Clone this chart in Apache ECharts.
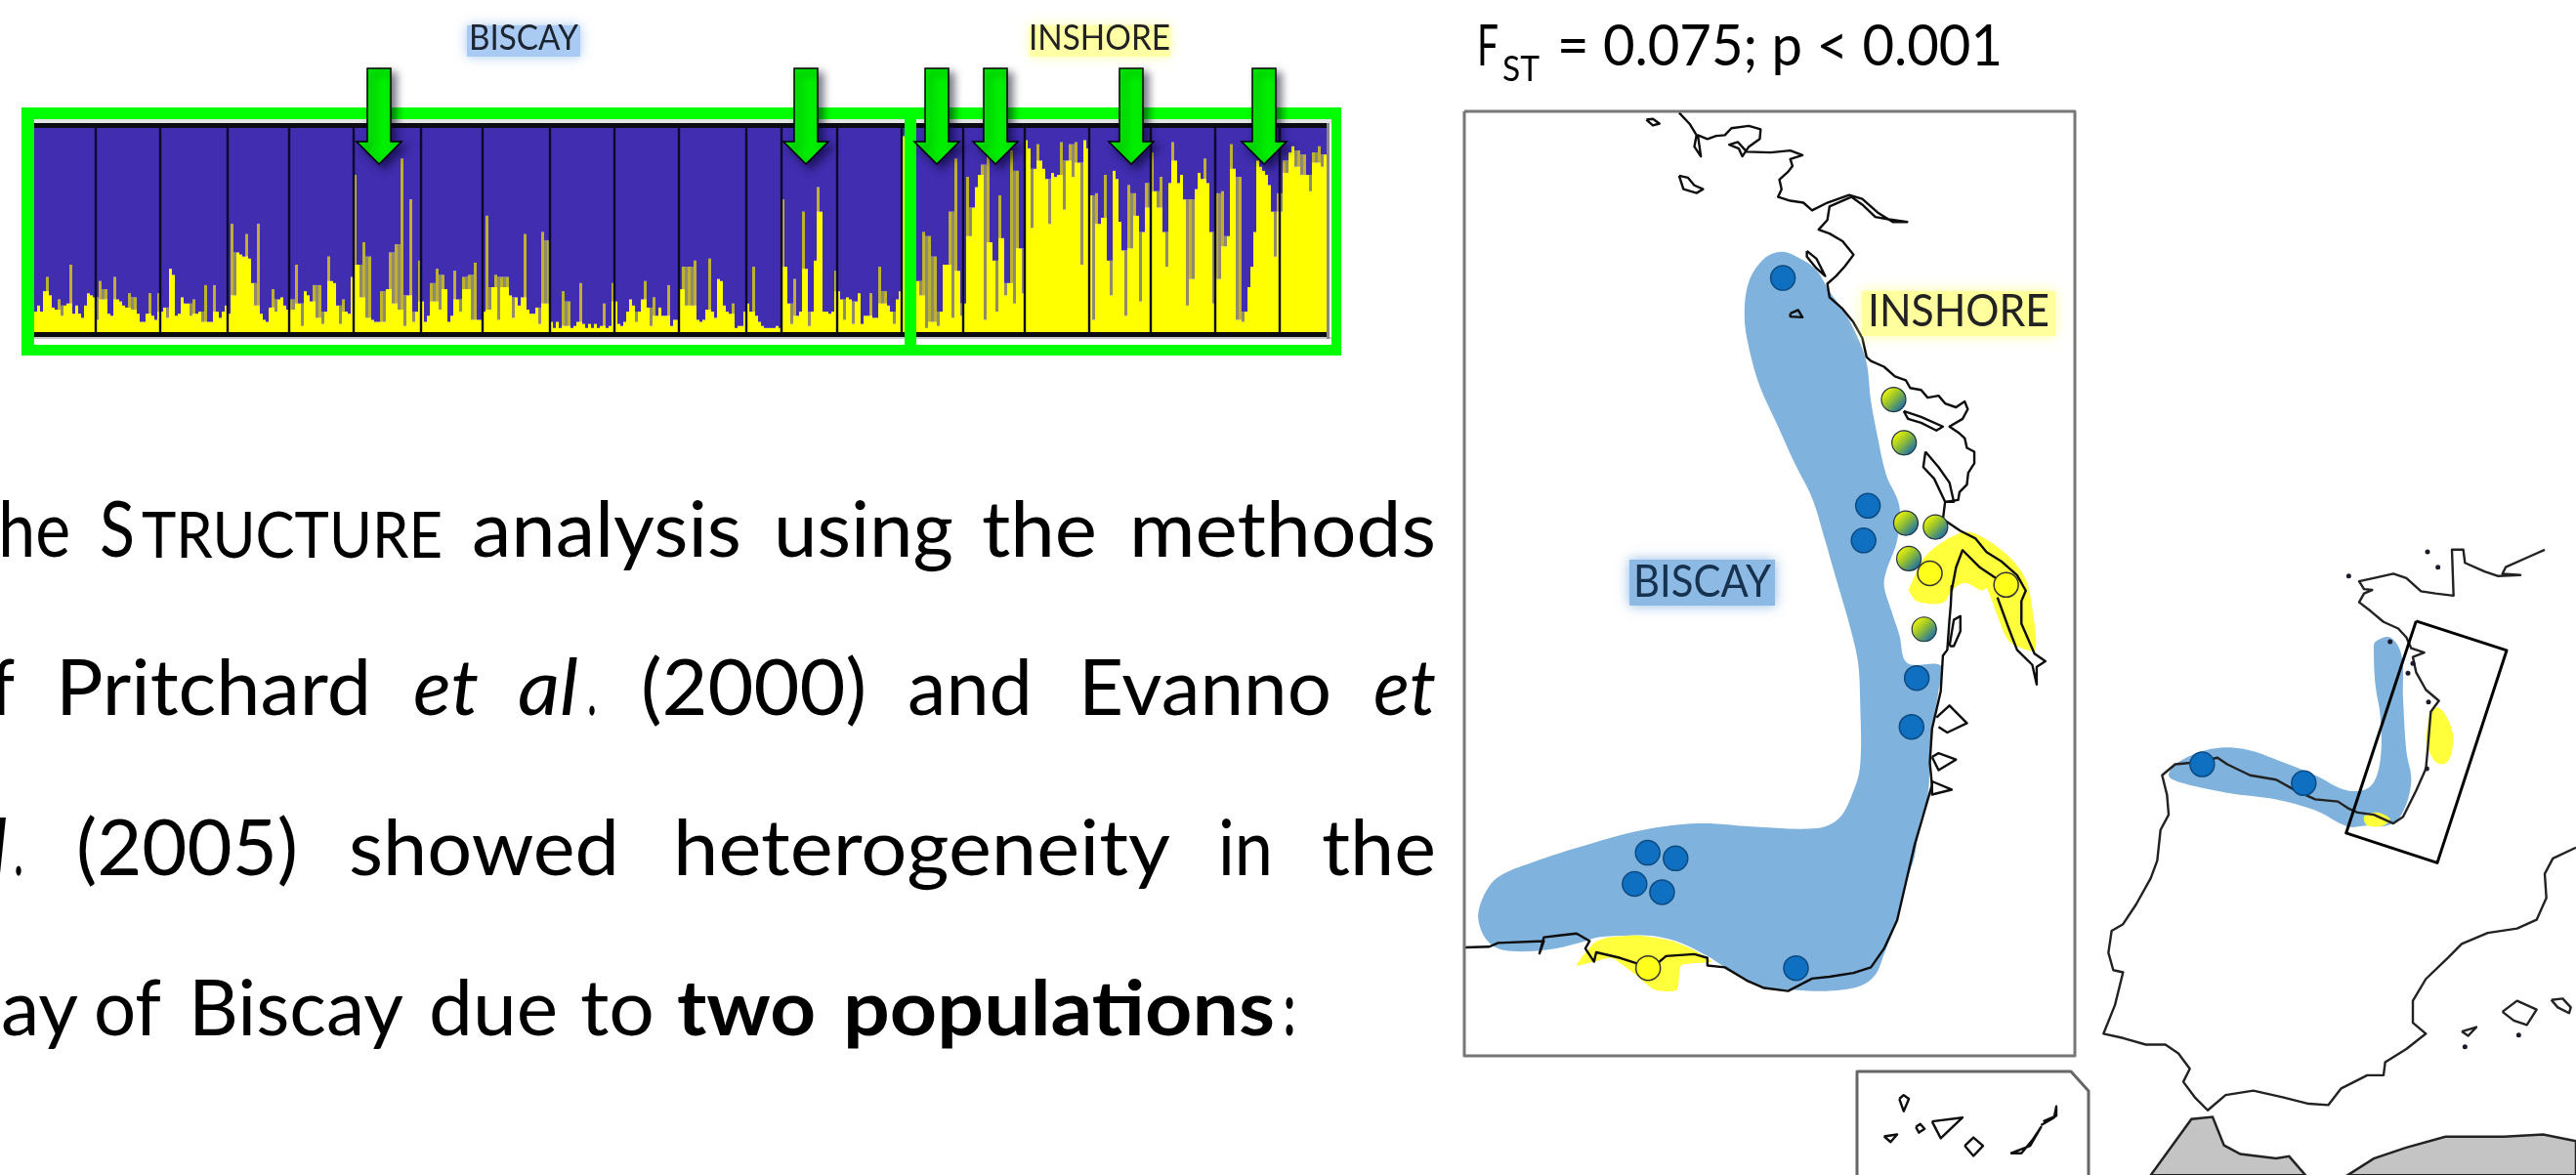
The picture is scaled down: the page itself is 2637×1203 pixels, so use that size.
<!DOCTYPE html>
<html><head><meta charset="utf-8">
<style>html,body{margin:0;padding:0;background:#fff;overflow:hidden}#c{width:2637px;height:1203px}</style>
<script src="https://cdn.jsdelivr.net/npm/echarts@6/dist/echarts.min.js"></script>
</head><body><div id="c"></div>
<script>
// ---- STRUCTURE plot: yellow (inshore) ancestry per individual, percent, one array per sampled population
const pop01=[10,13,10,20,27,18,12,11,16,8,13,14,33,9,13,9,7,13,19,18,17];
const pop02=[6,25,16,21,9,8,27,16,15,13,12,19,11,17,9,5,5,9,19,8,6,19];
const pop03=[10,12,7,31,28,8,9,17,14,14,8,16,9,10,5,23,5,5,23,10,7,10,13];
const pop04=[9,53,18,39,38,37,48,36,24,13,53,9,6,5,12,21,10,16,17,13,11];
const pop05=[16,11,33,14,3,20,18,15,23,7,23,4,10,37,25,24,13,4,16,10,9,27];
const pop06=[77,33,17,44,7,37,6,5,5,20,5,21,39,14,43,11,85,3,18,65,5,10,35];
const pop07=[15,5,8,24,15,31,11,28,21,5,8,30,16,10,27,21,28,6,34,6,6];
const pop08=[10,57,11,22,28,6,27,22,27,18,7,17,13,17,48,11,9,9,12,4,49,14,45];
const pop09=[5,2,5,2,20,3,15,2,3,5,24,4,2,4,2,4,2,3,14,2,3,24];
const pop10=[15,4,3,5,10,16,13,5,10,16,25,12,3,17,8,12,8,8,23,3,6,6];
const pop11=[21,32,13,32,13,35,6,5,6,11,36,10,7,26,25,13,10,9,14,2,3,3,10];
const pop12=[14,10,32,8,5,3,2,2,2,2,3,2];
const pop13=[65,32,14,4,26,8,10,59,31,3,10,35,71,59,10,10,9,10,30];
const pop14=[20,16,6,17,16,4,15,19,4,8,8,19,7,7,32,14,20,13,10,4,16,20];
const pop15=[96,95,80,60,40,25,18,49,2,47,5,37,3,10,33,33,59,7,85,30,8];
const pop16=[14,76,47,61,71,77,82,6,87,44,35,10,67,46,18,24,89,14,79,41,19];
const pop17=[94,90,51,80,92,84,80,75,53,78,76,77,93,60,84,92,76,93,83,33,94,90];
const pop18=[67,6,68,53,56,77,35,18,79,75,54,40,8,72,41,68,57,15,49,73,61];
const pop19=[88,69,61,76,49,32,73,93,84,73,77,65,13,65,26,70,78,75,85,73,49,14];
const pop20=[68,26,69,42,47,92,80,6,76,5,10,22,32,49,84,81,79,77,72,59,37,68];
const pop21=[59,84,78,88,91,81,89,77,87,77,69,88,83,91,81,87];
const populations=[pop01,pop02,pop03,pop04,pop05,pop06,pop07,pop08,pop09,pop10,pop11,pop12,pop13,pop14,pop15,pop16,pop17,pop18,pop19,pop20,pop21];
const arrowX=[388,825,959,1019,1158,1294];

// ---- map geometry (each has its own reading scale)
const A=p=>p.map(([x,y])=>[1480+x/2.24,y/2.53]);
const B=p=>p.map(([x,y])=>[1480+x/2.24,600+y/2.6]);
const C=p=>p.map(([x,y])=>[2130+x/3,500+y/2.23]);

const mainBlue=[...A([[770,652],[810,668],[850,700],[880,755],[915,810],[945,875],[965,940],[975,1040],[990,1130],[1010,1230],[1040,1310],[1035,1400],[1010,1480]]),
 ...B([[1005,0],[1020,60],[1040,130],[1058,205],[1135,212],[1130,280],[1115,380],[1110,470],[1105,560],[1085,640],[1075,720],[1055,790],[1035,890],[1005,980],[985,1035],[950,1065],[880,1078],[800,1075],[730,1068],[690,1050],[640,1015],[600,985],[540,950],[480,932],[420,930],[350,935],[320,945],[250,965],[150,972],[100,950],[75,890],[85,830],[120,775],[200,735],[320,690],[450,650],[580,632],[700,640],[850,645],[900,620],[930,560],[950,480],[950,300],[945,200],[925,100],[900,0]]),
 ...A([[885,1460],[870,1400],[840,1290],[800,1200],[760,1100],[720,1000],[695,900],[685,820],[695,730],[730,670]])];
const mainYellowN=[...A([[1060,1530],[1100,1440],[1180,1380],[1220,1385],[1290,1440],[1330,1500]]),
 ...B([[1345,60],[1352,170],[1320,165],[1290,145],[1262,70],[1240,5]]),
 ...A([[1230,1530],[1190,1510],[1160,1530]]),
 ...B([[1140,45],[1080,40],[1060,10]])];
const mainYellowS=B([[300,1010],[340,950],[375,935],[440,930],[520,945],[570,970],[610,1000],[540,1010],[530,1075],[480,1075],[430,1030],[380,990],[340,1000]]);
const overviewBlue=C([[905,350],[950,340],[985,380],[990,480],[1000,600],[1015,670],[985,745],[940,770],[880,770],[820,772],[720,735],[600,710],[450,695],[300,670],[270,655],[300,625],[400,595],[500,595],[620,625],[720,655],[820,690],[890,680],[920,620],[920,520],[905,450],[900,370]]);
const overviewYellowA=C([[1090,500],[1135,540],[1140,600],[1110,630],[1070,600],[1065,540]]);
const overviewYellowB=C([[870,750],[910,740],[950,755],[930,770],[880,770]]);
const africaA=C([[215,1568],[340,1440],[405,1435],[440,1500],[490,1520],[600,1530],[640,1525],[690,1568]]);
const africaB=C([[820,1568],[900,1530],[1000,1505],[1120,1480],[1300,1480],[1420,1475],[1521,1490],[1521,1568]]);

const mainCoast=[
 A([[535,292],[560,322],[575,350],[570,380],[585,405],[578,350],[600,360],[620,352],[640,350],[655,332],[695,326],[722,335],[720,360],[695,380],[680,405],[672,385],[650,375],[670,368],[690,393],[745,395],[790,390],[818,402],[790,412],[795,430],[785,445],[765,465],[770,490],[762,510],[790,520],[820,525],[840,545],[875,525],[925,505],[955,515],[990,550],[1025,575],[1058,575],[1015,568],[985,562],[955,530],[930,510],[880,535],[875,570],[855,595],[880,605],[910,625],[935,660],[915,690],[895,715],[875,735],[880,770],[910,800],[935,835],[955,875],[965,925],[975,935],[1005,950],[1030,975],[1055,985],[1065,1005],[1090,1010],[1105,1030],[1130,1025],[1145,1045],[1170,1055],[1190,1040],[1197,1060],[1185,1085],[1155,1105],[1175,1120],[1190,1135],[1195,1160],[1212,1170],[1212,1200],[1198,1225],[1195,1255],[1178,1275],[1175,1295],[1145,1300],[1140,1345],[1180,1375],[1215,1395],[1240,1430],[1275,1455],[1310,1490],[1330,1530]]).concat(B([[1320,40],[1320,100],[1350,180],[1375,200],[1355,215],[1355,262],[1345,210],[1310,170],[1290,110],[1265,30]])),
 A([[1265,1500],[1225,1470],[1185,1425],[1170,1470],[1160,1530]]).concat(B([[1160,0],[1158,50],[1155,90],[1150,170],[1140,185],[1135,280],[1115,380],[1110,470],[1115,530],[1100,590],[1075,690],[1055,790],[1035,890],[1005,965],[975,1015],[935,1030],[880,1040],[840,1045],[785,1078],[730,1070],[690,1050],[640,1015],[600,1010],[600,990],[570,980],[505,985],[490,1000],[440,1005],[400,990],[345,975],[340,1000],[320,965],[330,945],[300,925],[260,930],[225,935],[215,978],[225,945],[120,950],[100,960],[45,962]])),
 A([[460,310],[475,308],[490,320],[475,325],[460,310]]),
 A([[535,455],[555,460],[570,480],[590,490],[575,500],[545,490],[535,455]]),
 A([[828,650],[850,670],[870,715],[850,695],[828,665],[828,650]]),
 A([[790,812],[808,803],[818,822],[790,820],[790,812]]),
 A([[1050,1065],[1090,1080],[1140,1105],[1125,1115],[1090,1095],[1060,1085],[1050,1065]]),
 A([[1100,1170],[1130,1210],[1155,1250],[1165,1300],[1145,1300],[1120,1240],[1095,1210],[1100,1170]]),
 B([[1155,160],[1165,90],[1180,80],[1180,120],[1165,160],[1155,160]]),
 B([[1125,350],[1155,318],[1195,365],[1150,390],[1130,375]]),
 B([[1115,455],[1130,445],[1170,462],[1130,490],[1115,455]]),
 B([[1115,520],[1160,542],[1115,555],[1115,520]]),
 B([[1040,1365],[1050,1355],[1062,1365],[1050,1398],[1040,1365]]),
 B([[1078,1440],[1088,1432],[1098,1445],[1085,1455],[1078,1440]]),
 B([[1115,1425],[1185,1415],[1135,1470],[1115,1425]]),
 B([[1005,1465],[1035,1460],[1020,1480],[1005,1465]]),
 B([[1190,1490],[1210,1468],[1232,1490],[1210,1517],[1190,1490]]),
 B([[1295,1510],[1340,1490],[1365,1440],[1345,1475],[1320,1510],[1295,1510]]),
 B([[1370,1425],[1400,1410],[1400,1385],[1395,1415],[1365,1435]])
];
const overviewCoast=[
 C([[1425,140],[1380,155],[1305,180],[1295,195],[1350,198],[1280,200],[1240,190],[1180,170],[1175,140],[1140,140],[1145,245],[1090,240],[1045,235],[1000,205],[960,195],[900,205],[855,212],[870,230],[895,232],[870,240],[855,260],[890,280],[930,305],[975,320],[1000,340],[1015,365],[1055,375],[1020,385],[1030,420],[1060,460],[1100,485],[1075,510],[1065,600],[1060,640],[1030,690],[990,750],[960,765],[900,745],[850,740],[820,730],[790,715],[720,710],[660,690],[600,665],[520,655],[450,630],[420,615],[360,625],[290,630],[250,655],[265,700],[270,745],[245,780],[235,850],[215,890],[170,950],[130,995],[95,1010],[85,1060],[100,1100],[130,1105],[105,1180],[70,1245],[130,1255],[200,1270],[260,1270],[300,1290],[335,1325],[315,1355],[350,1390],[390,1420],[445,1385],[530,1375],[620,1390],[700,1405],[760,1408],[800,1370],[880,1340],[930,1340],[935,1310],[1000,1280],[1060,1245],[1020,1220],[1020,1170],[1060,1120],[1130,1070],[1170,1040],[1250,1015],[1340,1005],[1400,985],[1430,935],[1425,880],[1450,845],[1521,820]]),
 C([[1295,1195],[1340,1170],[1400,1190],[1370,1225],[1330,1215],[1295,1195]]),
 C([[1445,1168],[1480,1165],[1505,1185],[1500,1198],[1465,1185],[1445,1168]]),
 C([[1170,1240],[1215,1230],[1190,1250],[1170,1240]])
];
const overviewDots=C([[823,200],[1065,145],[1097,180],[1005,422],[1020,400],[1068,488],[1063,640],[950,350],[1180,1275],[1345,1248]]);
const zoomFrame=C([[1030,303],[1308,370],[1095,855],[815,787],[1030,303]]);
const inshorePoints=[...A([[1110,1485],[1285,1515]]),...B([[464,1017]])];
const mixedPoints=[...A([[1027,1035],[1051,1147],[1055,1355],[1123,1365],[1062,1447]]),...B([[1097,115]])];
const biscayPoints=[...A([[773,720],[968,1310],[958,1400]]),...B([[1080,245],[1068,375],[463,710],[527,725],[433,793],[496,815],[803,1017]]),...C([[373,630],[685,673]])];

// ---- text, word by word: [text, left, right, baseline, size, italic, bold, colour]
const bodyWords=[
 ['S',102,138,575,79],['TRUCTURE',145,453,575,65],['analysis',483,759,575,79],['using',792,976,575,79],['the',1005,1123,575,79],['methods',1156,1470,575,79],
 ['Pritchard',57,380,737,79],['et',423,490,737,79,1],['al',530,592,737,79,1],['.',601,611,737,79],['(2000)',656,887,737,79],['and',929,1057,737,79],['Evanno',1104,1363,737,79],['et',1406,1470,737,79,1],
 ['.',14,24,901,79],['(2005)',78,305,901,79],['showed',357,634,901,79],['heterogeneity',689,1198,901,79],['in',1247,1303,901,79],['the',1353,1470,901,79],
 ['of',96,165,1065,79],['Biscay',193,413,1065,79],['due',439,571,1065,79],['to',594,670,1065,79],['two',693,835,1065,79,0,1],['populations',863,1305,1065,79,0,1],[':',1314,1326,1065,79,0,1],
 ['F',1512,1534,71,58],['ST',1538,1576,85,36],['= 0.075; p < 0.001',1594,2050,71,58],
 ['BISCAY',480,592,53,36,0,0,'#1c2430'],['INSHORE',1053,1198,53,36,0,0,'#222'],
 ['INSHORE',1912,2098,337,47,0,0,'#222'],['BISCAY',1672,1813,614,47,0,0,'#16324f']
];
// words cut by the left edge of the slide: [text, right edge, baseline, size, italic, widthScale]
const cutWords=[['The',72,575,79,0,0.86],['of',15,737,79,0,0.86],['al',7,901,79,1,0.86],['Bay',80,1065,79,0,1]];
// glowing label backgrounds: [left, top, right, bottom, colour]
const labelGlows=[[478,26,594,58,'#a9caf2'],[1054,26,1198,58,'#ffffa6'],[1668,573,1817,620,'#8db9e5'],[1906,298,2104,344,'#ffff9e']];

// ---- build
const flat=populations.flat();
const cats=flat.map((_,i)=>i);
const yellow=[],spike=[],valley=[],blue=[];
flat.forEach((v,i)=>{
  const L=i?flat[i-1]:v,R=i<flat.length-1?flat[i+1]:v;
  const hi=Math.max(L,R),lo=Math.min(L,R);
  const sp=v>hi+4?v-hi:0, va=v<lo-4?lo-v:0;
  yellow.push(v-sp); spike.push(sp); valley.push(va); blue.push(100-v-va);
});
const popStarts=[];let acc=0;populations.forEach(p=>{if(acc)popStarts.push(acc);acc+=p.length;});

const measure=document.createElement('canvas').getContext('2d');
const FONT='Lato';
function textEl(w){
  const [t,x0,x1,base,size,it,bold,col]=w;
  const st=it?'italic':'normal',wt=bold?'bold':'normal';
  measure.font=`${st} ${wt} ${size}px ${FONT}`;
  const sx=(x1-x0)/measure.measureText(t).width;
  return {type:'text',x:x0,y:base-0.387*size,scaleX:sx,z:50,silent:true,
    style:{text:t,fontFamily:FONT,fontSize:size,fontStyle:st,fontWeight:wt,fill:col||'#000',align:'left',verticalAlign:'middle'}};
}
function cutEl(w){
  const [t,x1,base,size,it,sc]=w;const st=it?'italic':'normal';
  return {type:'text',x:x1,y:base-0.387*size,scaleX:sc,z:50,silent:true,
    style:{text:t,fontFamily:FONT,fontSize:size,fontStyle:st,fill:'#000',align:'right',verticalAlign:'middle'}};
}
const sceneAxes={xAxisIndex:1,yAxisIndex:1,coordinateSystem:'cartesian2d',silent:true,animation:false,clip:false};
function polygon(pts,style,z,smooth){
  return {type:'custom',...sceneAxes,z,data:[[0,0]],renderItem:(p,api)=>({type:'polygon',shape:{points:pts.map(q=>api.coord(q)),smooth:smooth||0},style})};
}
function rect(x,y,w,h,fill,z){
  return polygon([[x,y],[x+w,y],[x+w,y+h],[x,y+h]],{fill},z);
}
function line(pts,color,width,z){
  return {type:'line',...sceneAxes,z,data:pts,showSymbol:false,lineStyle:{color,width,join:'round'},itemStyle:{opacity:0}};
}
const barBase={type:'bar',stack:'q',barWidth:3,animation:false,silent:true,xAxisIndex:0,yAxisIndex:0,z:3};

const series=[
 {...barBase,name:'inshore',data:yellow,itemStyle:{color:'#ffff00'}},
 {...barBase,name:'spike',data:spike,itemStyle:{color:'#c0b030'}},
 {...barBase,name:'valley',data:valley,itemStyle:{color:'#8f8b6c'}},
 {...barBase,name:'biscay',data:blue,itemStyle:{color:'#402db0'}},
 {type:'custom',xAxisIndex:0,yAxisIndex:0,silent:true,animation:false,z:4,data:popStarts.map(i=>[i]),
  renderItem:(p,api)=>{const a=api.coord([api.value(0),100]),b=api.coord([api.value(0),0]),w=api.size([1,0])[0];
   return {type:'rect',shape:{x:a[0]-w/2-1.2,y:a[1],width:2.4,height:b[1]-a[1]},style:{fill:'#0c0a28'}};}},
 // black rails of the plot
 rect(35,126,1323,5,'#0b0b14',5), rect(35,122,1328,4,'#e4e4e4',4),
 rect(35,340,1323,5,'#0b0b14',5), rect(35,345,1328,2,'#c8c8c8',4), rect(1358,126,3,221,'#888',4),
 // green frame
 rect(22,110,1351,12,'#00ff00',6), rect(22,353,1351,11,'#00ff00',6), rect(22,110,13,254,'#00ff00',6), rect(1363,110,10,254,'#00ff00',6), rect(926,122,12,232,'#00ff00',6),
 // arrows
 {type:'custom',...sceneAxes,z:8,data:arrowX.map(x=>[x,70]),renderItem:(p,api)=>{
   const c=api.coord([api.value(0),api.value(1)]);const x=c[0],y=c[1];
   return {type:'polygon',shape:{points:[[x-12,y],[x+12,y],[x+12,y+75],[x+23,y+75],[x,y+98],[x-23,y+75],[x-12,y+75]]},
    style:{fill:'#00ee00',stroke:'#000',lineWidth:1.5,shadowColor:'rgba(0,0,30,0.55)',shadowBlur:9,shadowOffsetX:5,shadowOffsetY:5}};}},
 // map fills
 polygon(mainBlue,{fill:'#7fb2dc'},10,0.35),
 polygon(mainYellowN,{fill:'#ffff3c'},11,0.3),
 polygon(mainYellowS,{fill:'#ffff3c'},11,0.2),
 polygon(overviewBlue,{fill:'#7fb2dc'},10,0.35),
 polygon(overviewYellowA,{fill:'#ffff3c'},11,0.5),
 polygon(overviewYellowB,{fill:'#ffff3c'},11,0.3),
 polygon(africaA,{fill:'#c4c4c4',stroke:'#222',lineWidth:2.5},10),
 polygon(africaB,{fill:'#c4c4c4',stroke:'#222',lineWidth:2.5},10),
 ...mainCoast.map(c=>line(c,'#0d0d0d',2.4,12)),
 ...overviewCoast.map(c=>line(c,'#222',2.4,12)),
 line(zoomFrame,'#000',3,13),
 // panel boxes
 line([[1499,114],[2124,114],[2124,1081],[1499,1081],[1499,114]],'#777',3,13),
 line([[1901,1203],[1901,1097],[2120,1097],[2138,1117],[2138,1203]],'#666',3,13),
 {type:'scatter',...sceneAxes,z:14,data:overviewDots,symbolSize:5,itemStyle:{color:'#1a1a2a',opacity:1}},
 {type:'scatter',...sceneAxes,z:15,data:biscayPoints,symbolSize:25,itemStyle:{color:'#0f6fc0',opacity:1,borderColor:'#0c4a80',borderWidth:1.5}},
 {type:'scatter',...sceneAxes,z:15,data:inshorePoints,symbolSize:25,itemStyle:{color:'#ffff1a',opacity:1,borderColor:'#333',borderWidth:1.5}},
 {type:'scatter',...sceneAxes,z:15,data:mixedPoints,symbolSize:25,itemStyle:{opacity:1,color:new echarts.graphic.LinearGradient(0.1,0.1,0.9,0.9,[{offset:0,color:'#ffff00'},{offset:0.45,color:'#95c030'},{offset:1,color:'#0a64b8'}]),borderColor:'#234',borderWidth:1.2}}
];

const graphics=[
 ...labelGlows.map(g=>({type:'rect',z:30,silent:true,shape:{x:g[0],y:g[1],width:g[2]-g[0],height:g[3]-g[1]},style:{fill:g[4],shadowColor:g[4],shadowBlur:12}})),
 ...bodyWords.map(textEl),...cutWords.map(cutEl)
];

const chart=echarts.init(document.getElementById('c'),null,{renderer:'canvas'});
chart.setOption({
 animation:false,backgroundColor:'#fff',
 grid:[{left:35,top:131,width:1323,height:209},{left:0,top:0,width:2637,height:1203}],
 xAxis:[{type:'category',gridIndex:0,data:cats,show:false,boundaryGap:true},
        {type:'value',gridIndex:1,min:0,max:2637,show:false}],
 yAxis:[{type:'value',gridIndex:0,min:0,max:100,show:false},
        {type:'value',gridIndex:1,min:0,max:1203,inverse:true,show:false}],
 graphic:graphics,
 series
});
</script></body></html>
